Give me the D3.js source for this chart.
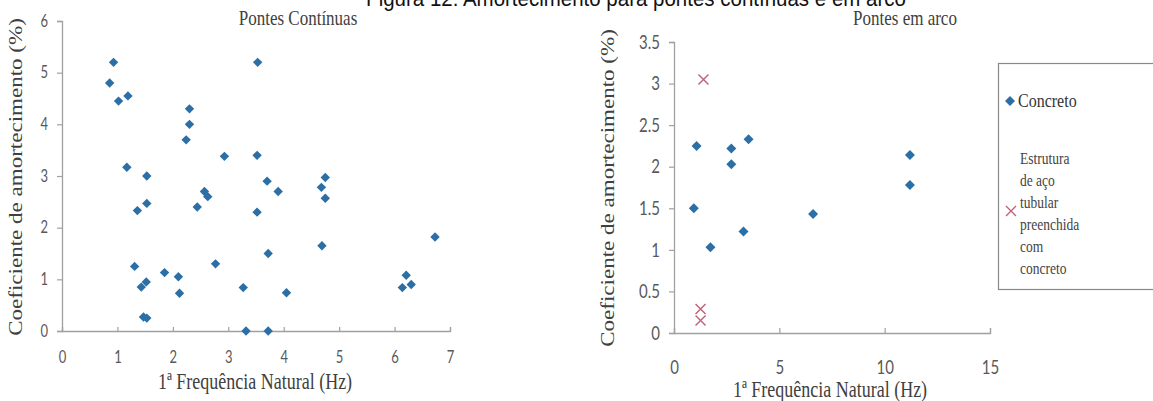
<!DOCTYPE html>
<html>
<head>
<meta charset="utf-8">
<script src="https://cdn.jsdelivr.net/npm/d3@7"></script>
<style>
  html, body { margin: 0; padding: 0; background: #fff; }
  svg { display: block; }
</style>
</head>
<body>
<svg id="chart" width="1153" height="401"></svg>
<script>
// Pontes contínuas: 1ª frequência natural (Hz) x coeficiente de amortecimento (%)
const contFreq = [0.93, 0.86, 1.02, 1.19, 2.30, 2.30, 3.53, 2.24, 1.17, 1.53, 2.93, 3.52,
                  3.70, 3.90, 4.75, 4.68, 4.75, 2.57, 2.63, 2.44, 1.36, 1.53, 3.52, 6.73,
                  4.69, 3.72, 2.77, 1.31, 1.85, 2.10, 2.12, 1.52, 1.43, 1.47, 1.53, 3.27,
                  3.32, 3.72, 4.05, 6.21, 6.14, 6.30];
const contDamp = [5.20, 4.80, 4.45, 4.55, 4.30, 4.00, 5.20, 3.70, 3.17, 3.00, 3.38, 3.40,
                  2.90, 2.70, 2.97, 2.78, 2.57, 2.70, 2.60, 2.40, 2.33, 2.47, 2.30, 1.82,
                  1.65, 1.50, 1.30, 1.25, 1.13, 1.05, 0.73, 0.95, 0.85, 0.27, 0.25, 0.84,
                  0.00, 0.00, 0.74, 1.08, 0.84, 0.90];

// Pontes em arco — concreto
const arcConcFreq = [1.07, 2.72, 3.54, 2.72, 11.2, 11.2, 0.94, 6.60, 3.30, 1.73];
const arcConcDamp = [2.25, 2.22, 2.33, 2.03, 2.14, 1.78, 1.50, 1.43, 1.22, 1.03];

// Pontes em arco — estrutura de aço tubular preenchida com concreto
const arcTubeFreq = [1.40, 1.26, 1.26];
const arcTubeDamp = [3.05, 0.29, 0.15];

// Eixos
const contXTicks = [0, 1, 2, 3, 4, 5, 6, 7];
const contYTicks = [0, 1, 2, 3, 4, 5, 6];
const arcXTicks = [0, 5, 10, 15];
const arcYTicks = [0, 0.5, 1, 1.5, 2, 2.5, 3, 3.5];

const figTitle = "Figura 12: Amortecimento para pontes contínuas e em arco";
const contTitle = "Pontes Contínuas";
const arcTitle = "Pontes em arco";
const xTitle = "1ª Frequência Natural (Hz)";
const yTitle = "Coeficiente de amortecimento (%)";
const legendConc = "Concreto";
const legendTube = ["Estrutura", "de aço", "tubular", "preenchida", "com", "concreto"];

const BLUE = "#2b6fa6";
const CROSS = "#c0607a";
const AXIS = "#a0a0a0";
const TICKTXT = "#595959";
const SERIF = "'Liberation Serif', 'Times New Roman', serif";
const SANS_TICK = "Lato, 'Open Sans', sans-serif";
const STRETCH = 1.28;

const svg = d3.select("#chart");

// texto horizontal levemente esticado na vertical
function label(x, y, txt, opts = {}) {
  const g = svg.append("g").attr("transform", `translate(${x},${y}) scale(1,${opts.sy || STRETCH})`);
  g.append("text")
    .attr("text-anchor", opts.anchor || "middle")
    .attr("font-family", opts.family || SERIF)
    .attr("font-size", opts.size || 18)
    .attr("fill", opts.fill || "#404040")
    .text(txt);
  return g;
}
function vlabel(x, y, txt, opts = {}) {
  const g = svg.append("g").attr("transform", `translate(${x},${y}) rotate(-90) scale(${opts.sx || STRETCH},1)`);
  g.append("text")
    .attr("text-anchor", "middle")
    .attr("font-family", SERIF)
    .attr("font-size", opts.size || 18)
    .attr("fill", "#404040")
    .text(txt);
}

const diamond = r => `M0,${-r}L${r},0L0,${r}L${-r},0Z`;
const cross = r => `M${-r},${-r}L${r},${r}M${-r},${r}L${r},${-r}`;

function styleAxis(g) {
  g.selectAll(".domain").attr("stroke", AXIS).attr("stroke-width", 1.3);
  g.selectAll(".tick line").attr("stroke", AXIS).attr("stroke-width", 1.2);
  g.selectAll(".tick text")
    .attr("fill", TICKTXT)
    .attr("font-family", SANS_TICK)
    .attr("font-size", 13);
}

// título da figura
label(636, 6, figTitle, { family: "'Liberation Sans', Arial, sans-serif", size: 20.5, fill: "#111", sy: 1.12 });

// ---------- Pontes contínuas ----------
const xC = d3.scaleLinear().domain([0, 7]).range([62, 450]);
const yC = d3.scaleLinear().domain([0, 6]).range([331, 21]);

const axCX = svg.append("g").attr("transform", `translate(0,${yC(0)})`)
  .call(d3.axisBottom(xC).tickValues(contXTicks).tickFormat(d3.format("d")).tickSize(-4).tickPadding(14));
const axCY = svg.append("g").attr("transform", `translate(${xC(0)},0)`)
  .call(d3.axisLeft(yC).tickValues(contYTicks).tickFormat(d3.format("d")).tickSize(5).tickPadding(9));
styleAxis(axCX); styleAxis(axCY);
axCX.selectAll(".tick text").attr("y", 16).attr("transform", `scale(1,${STRETCH})`);
axCY.selectAll(".tick text").attr("transform", `scale(1,${STRETCH})`).attr("y", 0);

svg.append("g").selectAll("path")
  .data(contFreq.map((f, i) => [f, contDamp[i]]))
  .join("path")
  .attr("d", diamond(4.7))
  .attr("transform", d => `translate(${xC(d[0])},${yC(d[1])})`)
  .attr("fill", BLUE);

label(298, 25, contTitle, { size: 17 });
label(255, 389, xTitle);
vlabel(22, 177, yTitle, { size: 18 });

// ---------- Pontes em arco ----------
const xA = d3.scaleLinear().domain([0, 15]).range([674, 990]);
const yA = d3.scaleLinear().domain([0, 3.5]).range([333, 42]);

const axAX = svg.append("g").attr("transform", `translate(0,${yA(0)})`)
  .call(d3.axisBottom(xA).tickValues(arcXTicks).tickFormat(d3.format("d")).tickSize(-5).tickPadding(14));
const axAY = svg.append("g").attr("transform", `translate(${xA(0)},0)`)
  .call(d3.axisLeft(yA).tickValues(arcYTicks).tickFormat(d => d === 0 ? "0" : d3.format("")(d)).tickSize(5).tickPadding(9));
styleAxis(axAX); styleAxis(axAY);
axAX.selectAll(".tick text").attr("y", 21).attr("font-size", 15).attr("transform", `scale(1,${STRETCH})`);
axAY.selectAll(".tick text").attr("font-size", 15).attr("transform", `scale(1,${STRETCH})`).attr("y", 0);

svg.append("g").selectAll("path")
  .data(arcConcFreq.map((f, i) => [f, arcConcDamp[i]]))
  .join("path")
  .attr("d", diamond(5))
  .attr("transform", d => `translate(${xA(d[0])},${yA(d[1])})`)
  .attr("fill", BLUE);

svg.append("g").selectAll("path")
  .data(arcTubeFreq.map((f, i) => [f, arcTubeDamp[i]]))
  .join("path")
  .attr("d", cross(5))
  .attr("transform", d => `translate(${xA(d[0])},${yA(d[1])})`)
  .attr("fill", "none")
  .attr("stroke", CROSS)
  .attr("stroke-width", 1.4);

label(905, 25, arcTitle, { size: 17 });
label(830, 397, xTitle);
vlabel(614, 188, yTitle, { size: 18 });

// ---------- Legenda ----------
const leg = svg.append("g");
leg.append("rect")
  .attr("x", 998.5).attr("y", 63.5).attr("width", 170).attr("height", 226)
  .attr("fill", "#fff").attr("stroke", "#888").attr("stroke-width", 1.2);
leg.append("path").attr("d", diamond(5)).attr("transform", "translate(1010,101)").attr("fill", BLUE);
label(1018, 107, legendConc, { anchor: "start", size: 16, fill: "#333", sy: 1.15 });
leg.append("path").attr("d", cross(5)).attr("transform", "translate(1011,211)")
  .attr("fill", "none").attr("stroke", CROSS).attr("stroke-width", 1.4);
legendTube.forEach((t, i) => {
  label(1020, 164 + i * 22, t, { anchor: "start", size: 13.5, fill: "#444", sy: 1.2 });
});
</script>
</body>
</html>
